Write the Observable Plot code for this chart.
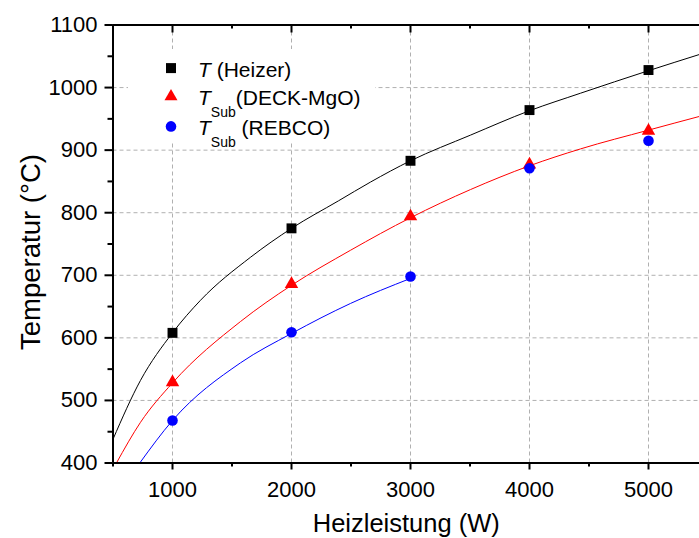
<!DOCTYPE html>
<html>
<head>
<meta charset="utf-8">
<script src="https://cdn.jsdelivr.net/npm/d3@7"></script>
<script src="https://cdn.jsdelivr.net/npm/@observablehq/plot@0.6"></script>
<style>
  html, body { margin: 0; padding: 0; background: #fff; }
  #wrap { position: relative; width: 699px; height: 538px; overflow: hidden; font-family: Arial, "Liberation Sans", sans-serif; }
  #legend { position: absolute; left: 0; top: 0; pointer-events: none; }
</style>
</head>
<body>
<div id="wrap"></div>
<script>
// Measured points
const power = [1000, 2000, 3000, 4000, 5000];
const tHeizer = [608, 775, 883, 964, 1028];
const tDeck = [529, 686, 794, 877, 931];
const tRebco = [468, 609, 698, 871, 915];

// Fit curves
const fitHeizerP = [500, 731, 1000, 1235, 1657, 2000, 2395, 2664, 3000, 3504, 4000, 4429, 5000, 5430];
const fitHeizerT = [438, 532, 608, 660, 729, 775, 819, 849, 883, 924, 963, 991, 1027, 1053];
const fitDeckP = [529, 731, 1000, 1571, 2000, 2496, 3000, 3504, 4000, 4429, 5000, 5430];
const fitDeckT = [400, 465, 528, 626, 684, 740, 792, 837, 875, 902, 932, 954];
const fitRebcoP = [725, 1000, 1571, 2000, 2496, 3000];
const fitRebcoT = [400, 468, 560, 607, 655, 695];

// Ticks
const xMajor = [1000, 2000, 3000, 4000, 5000];
const xMinor = [500, 1500, 2500, 3500, 4500, 5500];
const yMajor = [400, 500, 600, 700, 800, 900, 1000, 1100];
const yMinor = [450, 550, 650, 750, 850, 950, 1050];
const yGrid = [500, 600, 700, 800, 900, 1000];

const xTitle = "Heizleistung (W)";
const yTitle = "Temperatur (°C)";

const zip = (xs, ys) => xs.map((x, i) => ({x, y: ys[i]}));
const gridStyle = {stroke: "#b0b0b0", strokeOpacity: 1, strokeDasharray: "4,3", strokeWidth: 1};
const blank = () => "";
const plain = d => String(d);

const W = 699, H = 538, mT = 24.5, mB = 75.5;
const frameH = H - mT - mB;

const chart = Plot.plot({
  width: W,
  height: H,
  marginLeft: 112.5,
  marginTop: mT,
  marginBottom: mB,
  marginRight: 0,
  style: {fontFamily: 'Arial, "Liberation Sans", sans-serif', fontSize: "22px", color: "#000", background: "#fff", overflow: "visible"},
  x: {domain: [500, 5500], range: [112.5, 707.5]},
  y: {domain: [400, 1100]},
  marks: [
    Plot.gridX(xMajor, gridStyle),
    Plot.gridY(yGrid, gridStyle),
    Plot.line(zip(fitHeizerP, fitHeizerT), {x: "x", y: "y", stroke: "#000", strokeWidth: 1, curve: "monotone-x"}),
    Plot.line(zip(fitDeckP, fitDeckT), {x: "x", y: "y", stroke: "#ff0000", strokeWidth: 1, curve: "monotone-x"}),
    Plot.line(zip(fitRebcoP, fitRebcoT), {x: "x", y: "y", stroke: "#0000ff", strokeWidth: 1, curve: "monotone-x"}),
    Plot.dot(zip(power, tHeizer), {x: "x", y: "y", symbol: "square", fill: "#000", r: 5.6}),
    Plot.dot(zip(power, tDeck), {x: "x", y: "y", symbol: "triangle", fill: "#ff0000", r: 5}),
    Plot.dot(zip(power, tRebco), {x: "x", y: "y", symbol: "circle", fill: "#0000ff", r: 5.3}),
    Plot.ruleY([400, 1100], {stroke: "#000", strokeWidth: 2}),
    Plot.ruleX([500], {stroke: "#000", strokeWidth: 2}),
    // inward ticks along the top edge
    Plot.ruleX(xMajor, {stroke: "#000", strokeWidth: 2, insetBottom: frameH - 8}),
    Plot.ruleX(xMinor, {stroke: "#000", strokeWidth: 2, insetBottom: frameH - 4}),
    Plot.axisX({ticks: xMajor, anchor: "bottom", tickSize: 7, tickPadding: 11, strokeWidth: 2, fontSize: 22, tickFormat: plain, label: null}),
    Plot.axisX({ticks: xMinor, anchor: "bottom", tickSize: 4, strokeWidth: 2, tickFormat: blank, label: null}),
    Plot.axisY({ticks: yMajor, anchor: "left", tickSize: 8, tickPadding: 7.5, strokeWidth: 2, fontSize: 22, tickFormat: plain, label: null}),
    Plot.axisY({ticks: yMinor, anchor: "left", tickSize: 5, strokeWidth: 2, tickFormat: blank, label: null}),
    Plot.text([xTitle], {frameAnchor: "bottom", textAnchor: "middle", lineAnchor: "middle", dy: 61, fontSize: 25.5, fill: "#000"}),
    Plot.text([yTitle], {frameAnchor: "left", textAnchor: "middle", lineAnchor: "middle", dx: -82, dy: 8, rotate: -90, fontSize: 27.5, fill: "#000"})
  ]
});

const wrap = document.getElementById("wrap");
wrap.appendChild(chart);

// Legend overlay
const legendItems = [
  {shape: "square", color: "#000", main: "T", sub: "", rest: " (Heizer)"},
  {shape: "triangle", color: "#ff0000", main: "T", sub: "Sub", rest: "(DECK-MgO)"},
  {shape: "circle", color: "#0000ff", main: "T", sub: "Sub", rest: " (REBCO)"}
];
const rowBase = [76.7, 105, 135];
const lg = d3.select(wrap).append("svg")
  .attr("id", "legend").attr("width", W).attr("height", H)
  .style("font-family", 'Arial, "Liberation Sans", sans-serif');
lg.append("rect").attr("x", 128).attr("y", 49).attr("width", 247).attr("height", 94).attr("fill", "#fff");
const symMap = {square: d3.symbolSquare, triangle: d3.symbolTriangle, circle: d3.symbolCircle};
const sizeMap = {square: 100, triangle: 73, circle: Math.PI * 5.3 * 5.3};
legendItems.forEach((it, i) => {
  const b = rowBase[i];
  lg.append("path")
    .attr("d", d3.symbol(symMap[it.shape], sizeMap[it.shape])())
    .attr("transform", `translate(171,${b - 8.6})`)
    .attr("fill", it.color);
  const t = lg.append("text").attr("x", 198).attr("y", b).attr("font-size", 21).attr("fill", "#000")
    .attr("xml:space", "preserve").style("white-space", "pre");
  t.append("tspan").attr("font-style", "italic").text(it.main);
  if (it.sub) {
    t.append("tspan").attr("font-size", 14).attr("dy", 12).text(it.sub);
    t.append("tspan").attr("dy", -12).text(it.rest);
  } else {
    t.append("tspan").text(it.rest);
  }
});
</script>
</body>
</html>
